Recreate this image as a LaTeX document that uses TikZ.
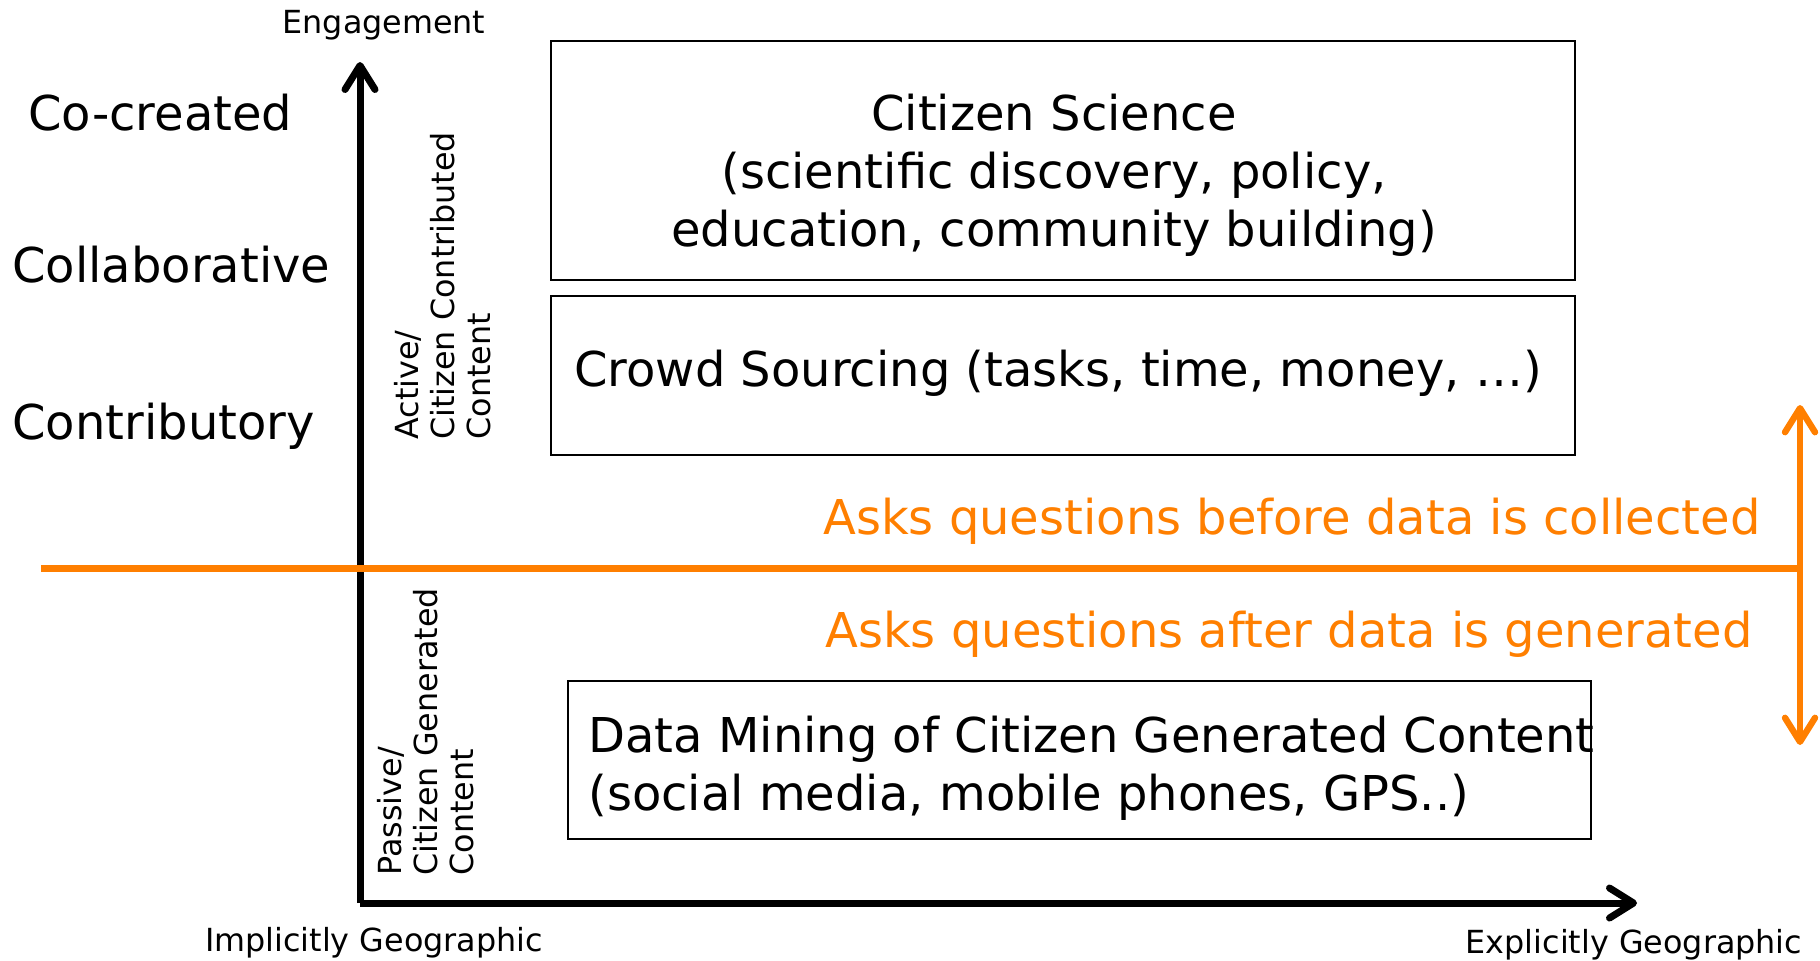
\documentclass[tikz,border=0pt]{standalone}
\usepackage{fontspec}
\setmainfont{DejaVu Sans}
\usetikzlibrary{arrows.meta}

\definecolor{askorange}{RGB}{255,127,0}

\begin{document}
\begin{tikzpicture}[x=0.5pt,y=-0.5pt,
        big/.style={font=\fontsize{24}{29}\selectfont, inner sep=0pt},
        small/.style={font=\fontsize{15.9}{18}\selectfont, inner sep=0pt},
        box/.style={draw, line width=0.8pt, inner sep=0pt},
        barb/.tip={Straight Barb[length=12pt,width=15pt,line cap=round,line join=round]},
        axis/.style={line width=3.5pt, -barb},
        ask/.style={askorange, line width=3.5pt}]
    \useasboundingbox (0,0) rectangle (1820,960);

    % axes
    \coordinate (origin) at (360,903);
    \coordinate (ytip) at (360,62);
    \coordinate (xtip) at (1637,903);
    \draw[axis] (origin) -- (ytip);
    \draw[axis] (origin) -- (xtip);
    \node[small] (engage) at (384,25) {Engagement};
    \node[small] (implicit) at (374,943) {Implicitly Geographic};
    \node[small] (explicit) at (1634,945) {Explicitly Geographic};

    % levels of engagement
    \node[big, anchor=west] (cocreated) at (28,113) {Co-created};
    \node[big, anchor=west] (collab) at (12,265) {Collaborative};
    \node[big, anchor=west] (contrib) at (12,426) {Contributory};

    \node[small, rotate=90, anchor=north west, align=left] (active) at (394,440)
        {Active/\\Citizen Contributed\\Content};
    \node[small, rotate=90, anchor=north west, align=left] (passive) at (377,876)
        {Passive/\\Citizen Generated\\Content};

    % boxes
    \node[box, minimum width=512pt, minimum height=119.5pt] (science) at (1063,160.5) {};
    \node[big, align=center] (sciencetext) at (1054,175)
        {Citizen Science\\(scientific discovery, policy,\\education, community building)};
    \node[box, minimum width=512pt, minimum height=79.5pt] (crowd) at (1063,375.5) {};
    \node[big] (crowdtext) at (1058,373) {Crowd Sourcing (tasks, time, money, …)};
    \node[box, minimum width=511.5pt, minimum height=79pt] (mining) at (1079.5,760) {};
    \node[big, anchor=west, align=left] (miningtext) at (588,768)
        {Data Mining of Citizen Generated Content\\(social media, mobile phones, GPS..)};

    % before / after split
    \coordinate (splitw) at (41,568);
    \coordinate (splite) at (1800,568);
    \coordinate (askup) at (1800,405);
    \coordinate (askdown) at (1800,745);
    \draw[ask] (splitw) -- (splite);
    \draw[askorange, line width=3.2pt, barb-barb] (askdown) -- (askup);
    \node[big, askorange, anchor=east] (before) at (1761,521) {Asks questions before data is collected};
    \node[big, askorange, anchor=east] (after) at (1753,634) {Asks questions after data is generated};
\end{tikzpicture}
\end{document}
